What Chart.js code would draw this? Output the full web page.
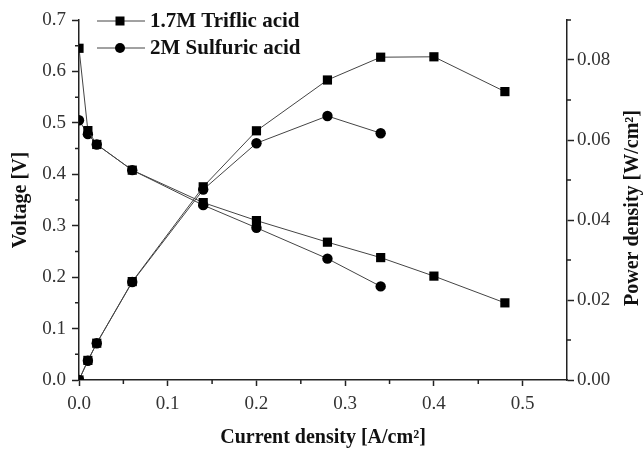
<!DOCTYPE html>
<html>
<head>
<meta charset="utf-8">
<script src="https://cdn.jsdelivr.net/npm/chart.js@4.4.1/dist/chart.umd.min.js"></script>
<style>
html,body{margin:0;padding:0;background:#fff;}
#wrap{width:643px;height:450px;}
</style>
</head>
<body>
<div id="wrap"><canvas id="c" width="643" height="450"></canvas></div>
<script>
// Current density [A/cm2]
const currentTriflic = [0, 0.01, 0.02, 0.06, 0.14, 0.20, 0.28, 0.34, 0.40, 0.48];
const currentSulfuric = [0, 0.01, 0.02, 0.06, 0.14, 0.20, 0.28, 0.34];
// Voltage [V]
const voltageTriflic = [0.645, 0.485, 0.458, 0.408, 0.345, 0.310, 0.268, 0.238, 0.202, 0.150];
const voltageSulfuric = [0.505, 0.478, 0.458, 0.408, 0.340, 0.296, 0.236, 0.182];
// Power density [W/cm2]
const powerTriflic = [0, 0.0049, 0.0092, 0.0246, 0.0483, 0.0623, 0.0750, 0.0807, 0.0808, 0.0721];
const powerSulfuric = [0, 0.0048, 0.0092, 0.0245, 0.0476, 0.0592, 0.0660, 0.0617];
// Tick labels
const xTicks = [0, 0.1, 0.2, 0.3, 0.4, 0.5];
const yLeftTicks = [0, 0.1, 0.2, 0.3, 0.4, 0.5, 0.6, 0.7];
const yRightTicks = [0, 0.02, 0.04, 0.06, 0.08];
const legendLabels = ['1.7M Triflic acid', '2M Sulfuric acid'];
const rightTitle = 'Power density [W/cm²]';

const pts = (xs, ys) => xs.map((x, i) => ({x: x, y: ys[i]}));
const LINE = '#444';
const SERIF = '"Liberation Serif", "Times New Roman", serif';

function ds(label, xs, ys, axis, style) {
  return {
    label: label, data: pts(xs, ys), yAxisID: axis,
    borderColor: LINE, borderWidth: 1, backgroundColor: '#000',
    pointStyle: style, pointRadius: style === 'rect' ? 6.5 : 5.2,
    pointBorderColor: '#000', pointBackgroundColor: '#000', pointBorderWidth: 0,
    tension: 0, fill: false
  };
}

const minorTicks = {
  id: 'minorTicks',
  afterDraw(chart) {
    const ctx = chart.ctx;
    ctx.save();
    ctx.strokeStyle = '#222';
    ctx.lineWidth = 1.5;
    const x = chart.scales.x, yl = chart.scales.y, yr = chart.scales.y1;
    ctx.beginPath();
    [0.05, 0.15, 0.25, 0.35, 0.45].forEach(v => {
      const px = x.getPixelForValue(v);
      ctx.moveTo(px, x.top); ctx.lineTo(px, x.top + 4);
    });
    [0.05, 0.15, 0.25, 0.35, 0.45, 0.55, 0.65].forEach(v => {
      const py = yl.getPixelForValue(v);
      ctx.moveTo(yl.right, py); ctx.lineTo(yl.right - 4, py);
    });
    [0.01, 0.03, 0.05, 0.07, 0.09].forEach(v => {
      const py = yr.getPixelForValue(v);
      ctx.moveTo(yr.left, py); ctx.lineTo(yr.left + 4, py);
    });
    ctx.stroke();
    // right axis title, reading bottom-to-top
    const ca = chart.chartArea;
    ctx.translate(633, (ca.top + ca.bottom) / 2 + 8);
    ctx.rotate(-Math.PI / 2);
    ctx.font = 'bold 20px ' + SERIF;
    ctx.fillStyle = '#111';
    ctx.textAlign = 'center';
    ctx.textBaseline = 'middle';
    ctx.fillText(rightTitle, 0, 0);
    ctx.restore();
  }
};

const customLegend = {
  id: 'customLegend',
  afterDraw(chart) {
    const ctx = chart.ctx;
    ctx.save();
    const styles = ['rect', 'circle'];
    const rowsY = [21, 48];
    legendLabels.forEach((lab, i) => {
      const y = rowsY[i];
      ctx.strokeStyle = LINE; ctx.lineWidth = 1;
      ctx.beginPath(); ctx.moveTo(97, y); ctx.lineTo(145, y); ctx.stroke();
      ctx.fillStyle = '#000';
      if (styles[i] === 'rect') { ctx.fillRect(115.5, y - 4.5, 9, 9); }
      else { ctx.beginPath(); ctx.arc(120, y, 5, 0, Math.PI * 2); ctx.fill(); }
      ctx.font = 'bold 21px ' + SERIF;
      ctx.textBaseline = 'middle';
      ctx.fillStyle = '#111';
      ctx.fillText(lab, 150, y + 1);
    });
    ctx.restore();
  }
};

const tickFont = {family: SERIF, size: 19};
const titleFont = {family: SERIF, size: 20, weight: 'bold'};

new Chart(document.getElementById('c'), {
  type: 'line',
  data: {
    datasets: [
      ds(legendLabels[0], currentTriflic, voltageTriflic, 'y', 'rect'),
      ds(legendLabels[1], currentSulfuric, voltageSulfuric, 'y', 'circle'),
      ds(legendLabels[0] + ' P', currentTriflic, powerTriflic, 'y1', 'rect'),
      ds(legendLabels[1] + ' P', currentSulfuric, powerSulfuric, 'y1', 'circle')
    ]
  },
  options: {
    responsive: false,
    animation: false,
    events: [],
    layout: {padding: {top: 20, bottom: 0, left: 0, right: 0}},
    plugins: {legend: {display: false}, tooltip: {enabled: false}},
    scales: {
      x: {
        type: 'linear', min: 0, max: 0.55,
        afterBuildTicks: s => { s.ticks = xTicks.map(v => ({value: v})); },
        afterFit: s => { s.height = 70; },
        border: {display: true, color: '#222', width: 1.5},
        grid: {drawOnChartArea: false, drawTicks: true, tickLength: 6, tickColor: '#222', tickWidth: 1.5},
        ticks: {font: tickFont, color: '#333', padding: 7, maxRotation: 0, callback: v => v.toFixed(1)},
        title: {display: true, text: 'Current density [A/cm²]', font: titleFont, color: '#111', padding: {top: 7, bottom: 0}}
      },
      y: {
        type: 'linear', position: 'left', min: 0, max: 0.7,
        afterBuildTicks: s => { s.ticks = yLeftTicks.map(v => ({value: v})); },
        afterFit: s => { s.width = 79; },
        border: {display: true, color: '#222', width: 1.5},
        grid: {drawOnChartArea: false, drawTicks: true, tickLength: 7, tickColor: '#222', tickWidth: 1.5},
        ticks: {font: tickFont, color: '#333', padding: 6, callback: v => v.toFixed(1)},
        title: {display: true, text: 'Voltage [V]', font: titleFont, color: '#111', padding: {top: 9, bottom: 0}}
      },
      y1: {
        type: 'linear', position: 'right', min: 0, max: 0.09,
        afterBuildTicks: s => { s.ticks = yRightTicks.map(v => ({value: v})); },
        afterFit: s => { s.width = 76; },
        border: {display: true, color: '#222', width: 1.5},
        grid: {drawOnChartArea: false, drawTicks: true, tickLength: 7, tickColor: '#222', tickWidth: 1.5},
        ticks: {font: tickFont, color: '#333', padding: 3, callback: v => v.toFixed(2)},
        title: {display: false}
      }
    }
  },
  plugins: [minorTicks, customLegend]
});
</script>
</body>
</html>
